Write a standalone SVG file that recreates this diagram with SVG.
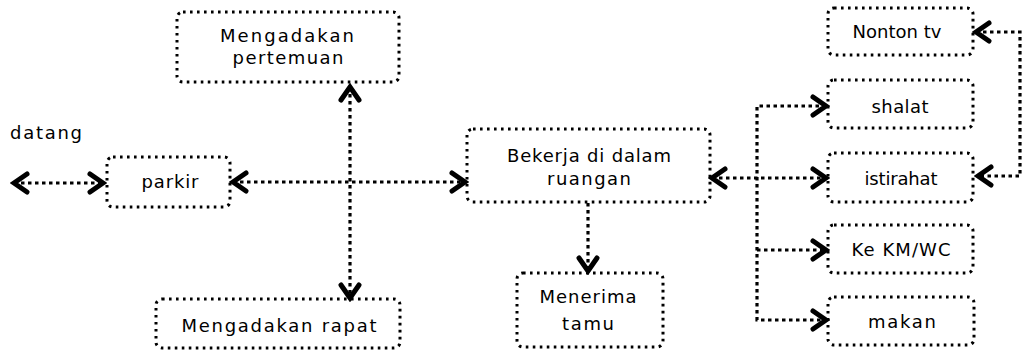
<svg xmlns="http://www.w3.org/2000/svg" width="1025" height="352" viewBox="0 0 1025 352">
<style>
.box{fill:none;stroke:#000;stroke-width:3;stroke-dasharray:2.6 4.4}
.t{font-family:"DejaVu Sans",sans-serif;font-size:18px;fill:#000;text-anchor:middle}
.c{fill:none;stroke:#000;stroke-width:3.2;stroke-dasharray:3.5 3.5;marker-end:url(#ah)}
.b{marker-start:url(#ah)}
</style>
<defs>
<marker id="ah" viewBox="0 0 20 24" markerUnits="userSpaceOnUse" markerWidth="20" markerHeight="24" refX="16" refY="12" orient="auto-start-reverse">
<path d="M3,3 L16,12 L3,21" fill="none" stroke="#000" stroke-width="5" stroke-linecap="round"/>
</marker>
</defs>
<rect width="1025" height="352" fill="#fff"/>
<g id="connectors">
<path class="c b" d="M14,183 H103"/>
<path class="c b" d="M233,182 H465"/>
<path class="c b" d="M350,87 V298"/>
<path class="c" d="M588,203 V271"/>
<path class="c b" d="M712,178 H826"/>
<path class="c b" d="M826,106 H757 V320 H826"/>
<path class="c" d="M757,250 H826"/>
<path class="c b" d="M976,32 H1020 V176 H978"/>
</g>
<g id="datang"><text class="t" x="10" y="139" style="text-anchor:start" textLength="72" lengthAdjust="spacing">datang</text></g>
<g id="pertemuan"><rect class="box" x="177" y="12" width="222" height="70" rx="6"/>
<text class="t" x="287" y="42" textLength="134" lengthAdjust="spacing">Mengadakan</text>
<text class="t" x="288" y="64" textLength="111" lengthAdjust="spacing">pertemuan</text></g>
<g id="parkir"><rect class="box" x="107" y="157" width="123" height="50" rx="6"/>
<text class="t" x="170" y="188" textLength="57" lengthAdjust="spacing">parkir</text></g>
<g id="rapat"><rect class="box" x="156" y="299" width="244" height="49" rx="6"/>
<text class="t" x="279" y="332" textLength="195" lengthAdjust="spacing">Mengadakan rapat</text></g>
<g id="bekerja"><rect class="box" x="467" y="129" width="243" height="73" rx="6"/>
<text class="t" x="589" y="162" textLength="164" lengthAdjust="spacing">Bekerja di dalam</text>
<text class="t" x="589" y="185" textLength="84" lengthAdjust="spacing">ruangan</text></g>
<g id="menerima"><rect class="box" x="517" y="273" width="146" height="74" rx="6"/>
<text class="t" x="588" y="303" textLength="97" lengthAdjust="spacing">Menerima</text>
<text class="t" x="588" y="330" textLength="52" lengthAdjust="spacing">tamu</text></g>
<g id="nonton"><rect class="box" x="828" y="8" width="145" height="47" rx="6"/>
<text class="t" x="897" y="38" textLength="89" lengthAdjust="spacing">Nonton tv</text></g>
<g id="shalat"><rect class="box" x="828" y="80" width="145" height="48" rx="6"/>
<text class="t" x="900" y="113" textLength="57" lengthAdjust="spacing">shalat</text></g>
<g id="istirahat"><rect class="box" x="828" y="153" width="145" height="49" rx="6"/>
<text class="t" x="901" y="185" textLength="73" lengthAdjust="spacing">istirahat</text></g>
<g id="kmwc"><rect class="box" x="828" y="225" width="145" height="48" rx="6"/>
<text class="t" x="901" y="256" textLength="99" lengthAdjust="spacing">Ke KM/WC</text></g>
<g id="makan"><rect class="box" x="828" y="297" width="146" height="48" rx="6"/>
<text class="t" x="902" y="328" textLength="68" lengthAdjust="spacing">makan</text></g>
</svg>
